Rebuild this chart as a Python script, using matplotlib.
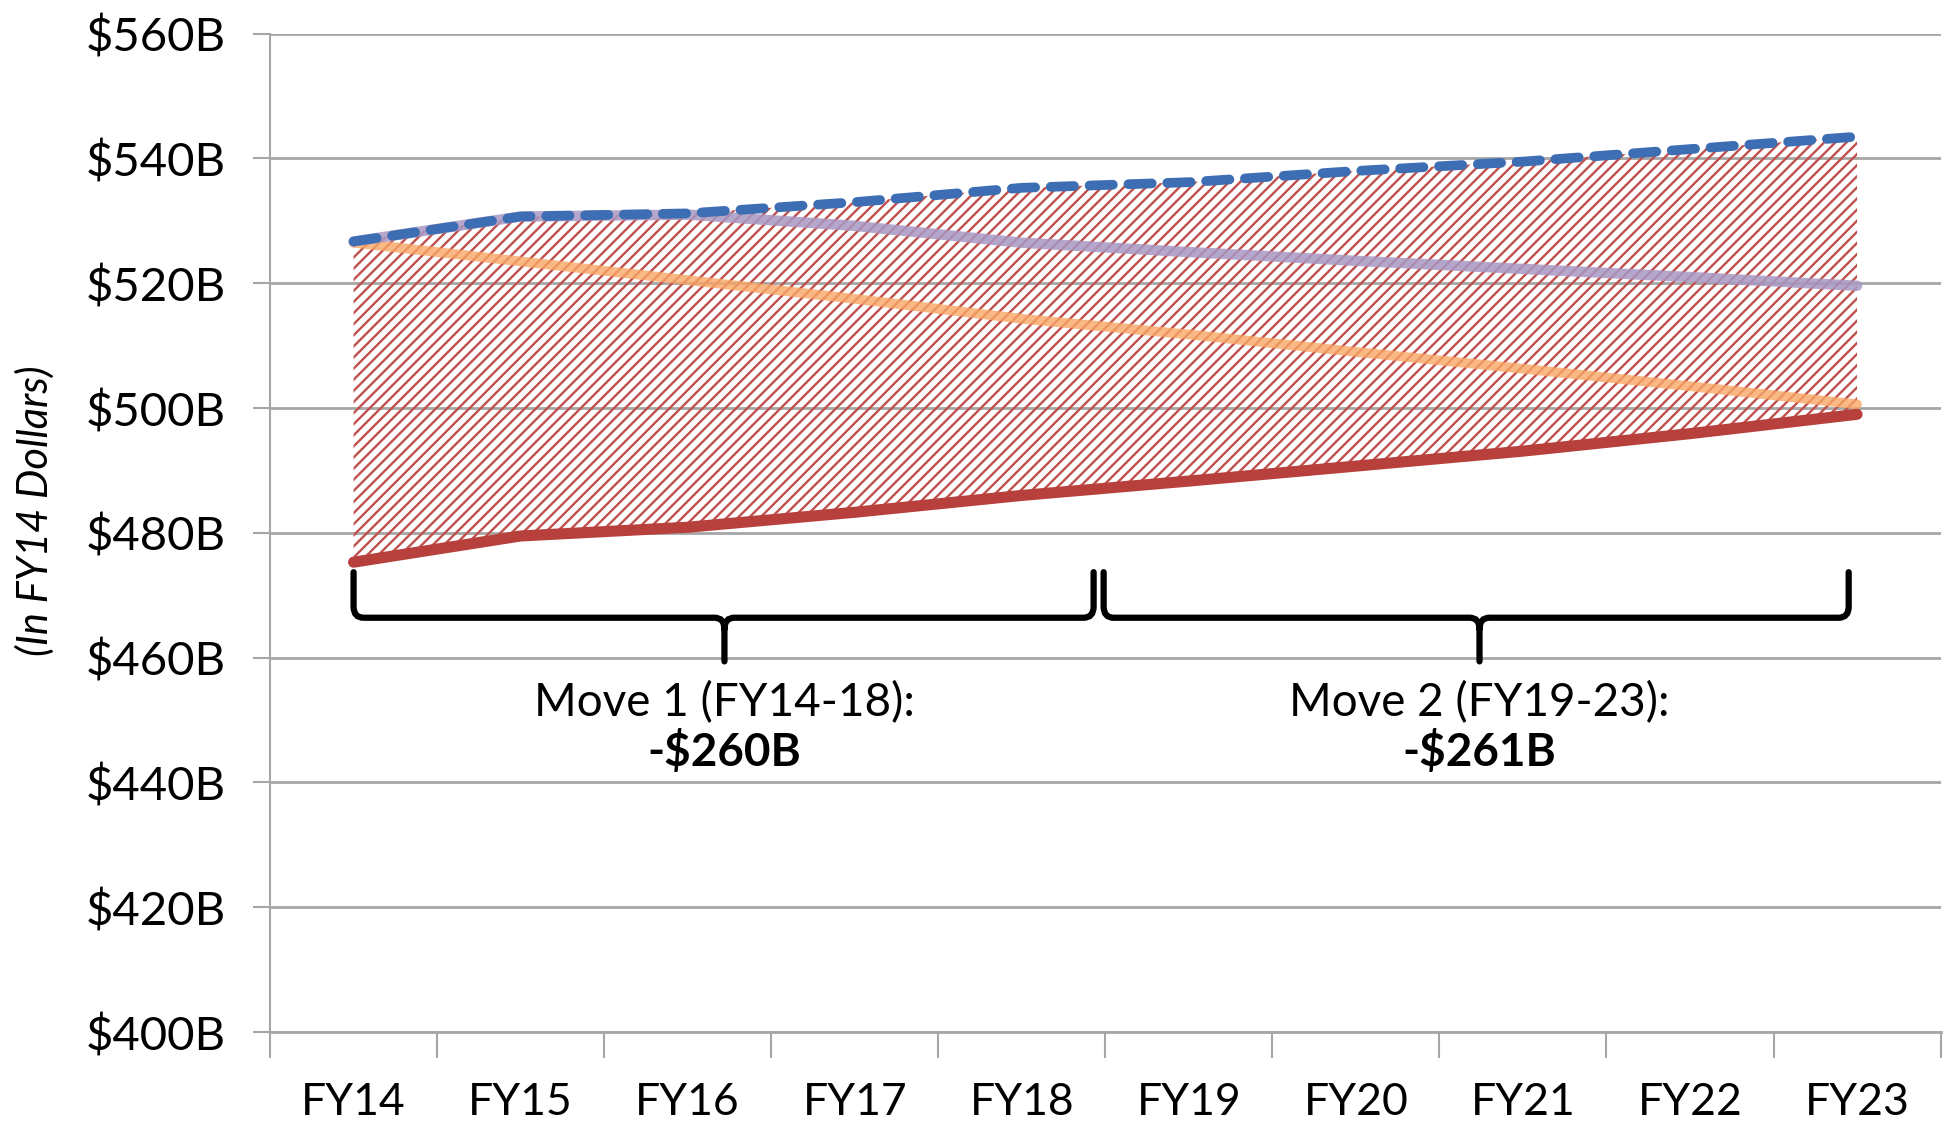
import numpy as np
import matplotlib.pyplot as plt
from matplotlib.path import Path
from matplotlib.patches import PathPatch

plt.rcParams['font.family'] = ['Lato', 'DejaVu Sans']
plt.rcParams['hatch.linewidth'] = 1.7

# data (billions, FY14 dollars)
years = ["FY14", "FY15", "FY16", "FY17", "FY18", "FY19", "FY20", "FY21", "FY22", "FY23"]
pb_request = [526.7, 530.7, 531.2, 533.0, 535.3, 536.2, 538.0, 539.5, 541.5, 543.5]
purple_line = [526.7, 530.7, 531.0, 529.2, 526.5, 525.0, 523.6, 522.3, 521.0, 519.6]
orange_line = [526.5, 523.5, 520.5, 517.5, 514.3, 511.8, 509.0, 506.3, 503.5, 500.6]
bca_cap = [475.3, 479.5, 480.9, 483.3, 486.0, 488.3, 490.7, 493.1, 495.9, 499.0]

brace_spans = [(0.0, 4.43), (4.49, 8.95)]
brace_tips = [2.22, 6.74]
move_labels = ["Move 1 (FY14-18):", "Move 2 (FY19-23):"]
move_values = ["-$260B", "-$261B"]

x = np.arange(len(years))

fig = plt.figure(figsize=(19.47, 11.23), dpi=100)
ax = fig.add_axes([0.1387, 0.081, 0.858, 0.889])

# hatched gap
ax.fill_between(x, bca_cap, pb_request, facecolor='none', edgecolor='#c0504d',
                hatch='///', linewidth=0, zorder=2)

ax.plot(x, bca_cap, color='#b7403c', lw=8, solid_capstyle='round', zorder=4)
ax.plot(x, orange_line, color='#f9a765', lw=7, alpha=0.8, solid_capstyle='round', zorder=3)
ax.plot(x, purple_line, color='#a898c4', lw=7.5, alpha=0.85, solid_capstyle='round', zorder=3)
ax.plot(x, pb_request, color='#3d6db3', lw=7, dashes=(2.4, 1.6), dash_capstyle='round', zorder=5)


# curly braces
def brace(x0, x1, xt, ytop, yh, ytip, rx=0.06, ry=1.8):
    verts = [(x0, ytop), (x0, yh + ry), (x0, yh), (x0 + rx, yh),
             (xt - rx, yh), (xt, yh), (xt, yh - ry), (xt, ytip),
             (xt, yh - ry), (xt, yh), (xt + rx, yh),
             (x1 - rx, yh), (x1, yh), (x1, yh + ry), (x1, ytop)]
    codes = [Path.MOVETO, Path.LINETO, Path.CURVE3, Path.CURVE3,
             Path.LINETO, Path.CURVE3, Path.CURVE3, Path.LINETO,
             Path.MOVETO, Path.CURVE3, Path.CURVE3,
             Path.LINETO, Path.CURVE3, Path.CURVE3, Path.LINETO]
    ax.add_patch(PathPatch(Path(verts, codes), fill=False, lw=4.5,
                           edgecolor='black', capstyle='round', zorder=6))


for (b0, b1), tip, lab, val in zip(brace_spans, brace_tips, move_labels, move_values):
    brace(b0, b1, tip, 473.7, 466.4, 459.4)
    ax.text(tip, 452.8, lab, ha='center', va='center', fontsize=33)
    ax.text(tip, 444.9, val, ha='center', va='center', fontsize=33, fontweight='bold')

ax.set_xlim(-0.5, 9.5)
ax.set_ylim(400, 560)
ax.set_yticks(np.arange(400, 561, 20))
ax.set_yticklabels(["${}B".format(v) for v in range(400, 561, 20)], fontsize=34)
ax.yaxis.grid(True, color='#a6a6a6', lw=2)
ax.set_axisbelow(True)

ax.set_xticks(x)
ax.set_xticklabels(years, fontsize=32)
ax.set_xticks(np.arange(-0.5, 9.6, 1), minor=True)
ax.tick_params(axis='x', which='major', length=0, pad=36)
ax.tick_params(axis='x', which='minor', length=19, width=1.5, color='#a6a6a6')
ax.tick_params(axis='y', length=12, width=1.5, color='#a6a6a6', pad=20)

for side in ['top', 'right']:
    ax.spines[side].set_visible(False)
ax.spines['left'].set_color('#a6a6a6')
ax.spines['left'].set_linewidth(1.5)
ax.spines['bottom'].set_color('#a6a6a6')
ax.spines['bottom'].set_linewidth(2)

fig.text(0.018, 0.545, "(In FY14 Dollars)", rotation=90, ha='center', va='center',
         fontsize=30, style='italic')

fig.savefig("out.png", dpi=100)
